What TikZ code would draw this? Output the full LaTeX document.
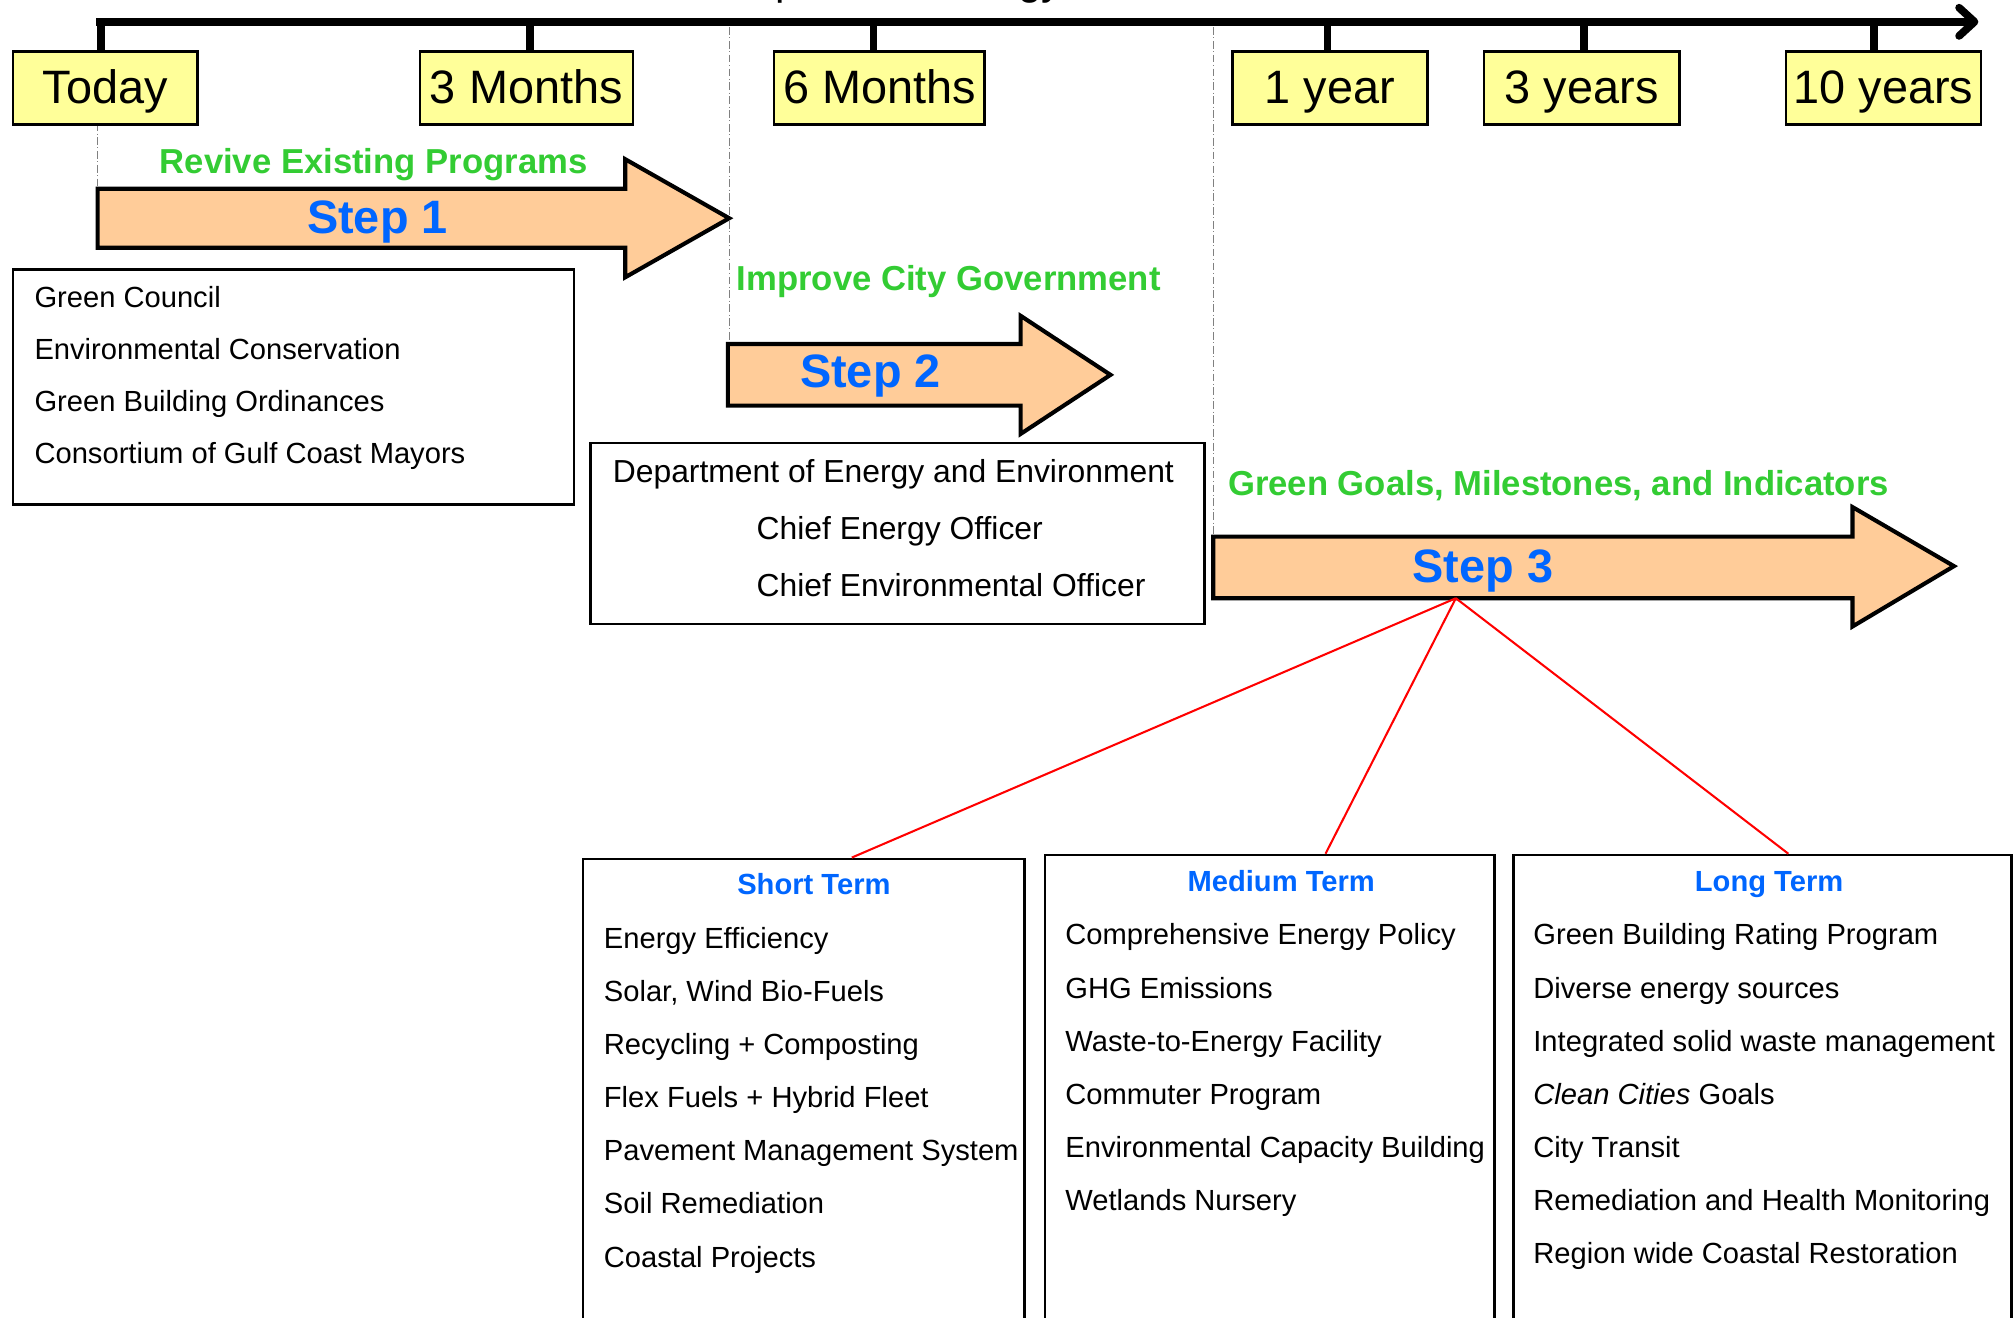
\documentclass[tikz,border=0pt]{standalone}
\usepackage{fontspec}
\setmainfont{Liberation Sans}
\usetikzlibrary{arrows.meta}
\definecolor{yel}{HTML}{FFFF99}
\definecolor{peach}{HTML}{FFCC99}
\definecolor{stepblue}{HTML}{0066FF}
\definecolor{headgreen}{HTML}{33CC33}
\newcommand\setfs[1]{\fontsize{#1}{#1}\selectfont}
\begin{document}
\begin{tikzpicture}[x=0.5pt,y=-0.5pt,
  timebox/.style={draw=black,line width=1pt,fill=yel,inner sep=0pt,anchor=north west,minimum height=28.5pt,font=\setfs{18.25},text height=1.2em,text depth=0pt},
  stepbody/.style={fill=peach,draw=black,line width=1.6pt,line join=miter},
  steplabel/.style={anchor=base,inner sep=0pt,text=stepblue,font=\bfseries\setfs{18.25}},
  greenhead/.style={anchor=base,inner sep=0pt,text=headgreen,font=\bfseries\setfs{13.5}},
  listbox/.style={draw=black,line width=1pt,anchor=north west,inner sep=0pt},
  item/.style={anchor=base west,inner sep=0pt,font=\setfs{11.35}},
  deptitem/.style={anchor=base west,inner sep=0pt,font=\setfs{12.4}},
  termtitle/.style={anchor=base,inner sep=0pt,text=stepblue,font=\bfseries\setfs{11.35}},
  tick/.style={line width=3pt},
  guide/.style={draw=gray,line width=0.4pt,densely dashdotted},
  redline/.style={draw=red,line width=0.8pt}]

\useasboundingbox (0,0) rectangle (1568,1025.9);

% clipped title (only descenders visible)
\node[anchor=base west,inner sep=0pt,font=\setfs{16.5}] (title) at (501,-4) {Development Strategy};

% guide lines
\draw[guide] (76,96) -- (76,147);
\draw[guide] (568,21) -- (568,268);
\draw[guide] (945,21) -- (945,418);

% time boxes
\node[timebox,minimum width=72pt] (today) at (9,39) {Today};
\node[timebox,minimum width=83pt] (m3) at (326,39) {3 Months};
\node[timebox,minimum width=82pt] (m6) at (602,39) {6 Months};
\node[timebox,minimum width=76pt] (y1) at (959,39) {1 year};
\node[timebox,minimum width=76pt] (y3) at (1155,39) {3 years};
\node[timebox,minimum width=76pt] (y10) at (1390,39) {10 years};

% timeline
\coordinate (tl0) at (75,17);
\coordinate (tl1) at (1541,17);
\draw[line width=3pt,-{Straight Barb[length=6pt,width=11pt,line cap=round,line join=round]}] (tl0) -- (tl1);
\draw[tick] ([xshift=-1.75pt]today.north) -- ([xshift=-1.75pt]today.north |- tl0);
\draw[tick] ([xshift=1.5pt]m3.north) -- ([xshift=1.5pt]m3.north |- tl0);
\draw[tick] ([xshift=-2.25pt]m6.north) -- ([xshift=-2.25pt]m6.north |- tl0);
\draw[tick] ([xshift=-1pt]y1.north) -- ([xshift=-1pt]y1.north |- tl0);
\draw[tick] ([xshift=1pt]y3.north) -- ([xshift=1pt]y3.north |- tl0);
\draw[tick] ([xshift=-3.75pt]y10.north) -- ([xshift=-3.75pt]y10.north |- tl0);

% step arrows
\draw[stepbody] (76,147) -- (487,147) -- (487,124) -- (568,170) -- (487,216) -- (487,193) -- (76,193) -- cycle;
\node[steplabel] (s1) at (294,182) {Step 1};
\node[greenhead] (g1) at (291,135) {Revive Existing Programs};

\draw[stepbody] (567,268) -- (795,268) -- (795,246) -- (865,292) -- (795,338) -- (795,316) -- (567,316) -- cycle;
\node[steplabel] (s2) at (678,302) {Step 2};
\node[greenhead] (g2) at (739,226) {Improve City Government};

\draw[stepbody] (945,418) -- (1443,418) -- (1443,395) -- (1522,441) -- (1443,488) -- (1443,466) -- (945,466) -- cycle;
\node[steplabel] (s3) at (1155,454) {Step 3};
\node[greenhead] (g3) at (1214,386) {Green Goals, Milestones, and Indicators};

% step 1 list
\node[listbox,minimum width=218.5pt,minimum height=91.5pt] (b1) at (9,209) {};
\node[item] (b1a) at (26.5,239.5) {Green Council};
\node[item] (b1b) at (26.5,280) {Environmental Conservation};
\node[item] (b1c) at (26.5,320.5) {Green Building Ordinances};
\node[item] (b1d) at (26.5,361) {Consortium of Gulf Coast Mayors};

% step 2 list
\node[listbox,minimum width=239pt,minimum height=70.5pt] (b2) at (459,344) {};
\node[deptitem] (b2a) at (477,376) {Department of Energy and Environment};
\node[deptitem] (b2b) at (589,420) {Chief Energy Officer};
\node[deptitem] (b2c) at (589,465) {Chief Environmental Officer};

% term boxes
\node[listbox,minimum width=172pt,minimum height=181pt] (short) at (453,668) {};
\node[listbox,minimum width=175pt,minimum height=182.5pt] (medium) at (813,665) {};
\node[listbox,minimum width=194pt,minimum height=182.5pt] (long) at (1178,665) {};

% red connectors
\coordinate (s3b) at (1134,466);
\coordinate (shortTop) at (663.5,668);
\coordinate (mediumTop) at (1032.5,665);
\coordinate (longTop) at (1393,665);
\draw[redline] (s3b) -- (shortTop);
\draw[redline] (s3b) -- (mediumTop);
\draw[redline] (s3b) -- (longTop);

% term contents
\node[termtitle] (st) at (634,697) {Short Term};
\foreach \t [count=\k from 0] in {Energy Efficiency,{Solar, Wind Bio-Fuels},Recycling + Composting,Flex Fuels + Hybrid Fleet,Pavement Management System,Soil Remediation,Coastal Projects}
  \node[item] (st\k) at (470,{738.6+41.4*\k}) {\t};

\node[termtitle] (mt) at (998,694.5) {Medium Term};
\foreach \t [count=\k from 0] in {Comprehensive Energy Policy,GHG Emissions,Waste-to-Energy Facility,Commuter Program,Environmental Capacity Building,Wetlands Nursery}
  \node[item] (mt\k) at (829.5,{736+41.4*\k}) {\t};

\node[termtitle] (lt) at (1378,694.5) {Long Term};
\foreach \t [count=\k from 0] in {Green Building Rating Program,Diverse energy sources,Integrated solid waste management,{\textit{Clean Cities} Goals},City Transit,Remediation and Health Monitoring,Region wide Coastal Restoration}
  \node[item] (lt\k) at (1194,{736+41.4*\k}) {\t};

\end{tikzpicture}
\end{document}
